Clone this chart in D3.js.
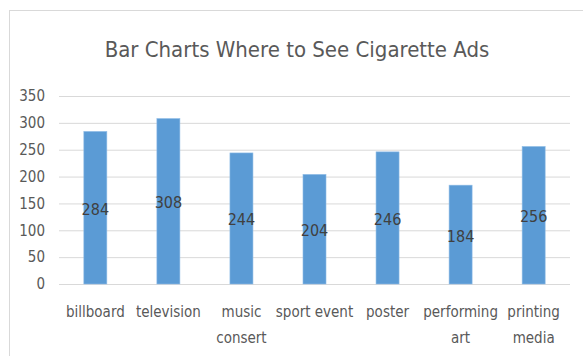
<!DOCTYPE html>
<html lang='en'>
<head>
<meta charset='utf-8'/>
<title>Bar Charts Where to See Cigarette Ads</title>
<script src='https://d3js.org/d3.v7.min.js'></script>
<style>
  body { margin: 0; background: #fff; }
  text { font-family: 'Liberation Sans Narrow', 'DejaVu Sans Condensed', 'Open Sans', sans-serif; }
</style>
</head>
<body>
<script>
'use strict'
// data
const categories = ['billboard', 'television', 'music consert', 'sport event', 'poster', 'performing art', 'printing media']
const categoryLines = [['billboard'], ['television'], ['music', 'consert'], ['sport event'], ['poster'], ['performing', 'art'], ['printing', 'media']]
const values = [284, 308, 244, 204, 246, 184, 256]
const yTicks = [0, 50, 100, 150, 200, 250, 300, 350]
const title = 'Bar Charts Where to See Cigarette Ads'

const W = 583, H = 356
const plot = {left: 59, right: 570, top: 96, bottom: 284}

const svg = d3.select('body').append('svg')
  .attr('width', W)
  .attr('height', H)

// chart area border (cropped at right / bottom)
svg.append('rect')
  .attr('x', 9.5).attr('y', 10.5)
  .attr('width', W + 10).attr('height', H + 10)
  .attr('fill', '#fff')
  .attr('stroke', '#d9d9d9')

svg.append('text')
  .attr('x', 297).attr('y', 57)
  .attr('text-anchor', 'middle')
  .attr('fill', '#595959')
  .style('font-size', '22px')
  .text(title)

const x = d3.scaleBand()
  .domain(categories)
  .range([plot.left, plot.right])
  .paddingInner(0.685)
  .paddingOuter(0.34)

const y = d3.scaleLinear()
  .domain([0, 350])
  .range([plot.bottom, plot.top])

// grid + y labels
const yAxis = svg.append('g')
  .attr('transform', `translate(${plot.left},0)`)
  .call(d3.axisLeft(y).tickValues(yTicks).tickSize(-(plot.right - plot.left)).tickPadding(14))
yAxis.select('.domain').remove()
yAxis.selectAll('.tick line').attr('stroke', '#d9d9d9')
yAxis.selectAll('.tick text')
  .attr('fill', '#595959')
  .style('font-size', '15px')

// bars
svg.append('g').selectAll('rect')
  .data(values)
  .join('rect')
  .attr('x', (d, i) => x(categories[i]))
  .attr('y', d => y(d))
  .attr('width', x.bandwidth())
  .attr('height', d => y(0) - y(d))
  .attr('fill', '#5b9bd5')
  .attr('stroke', '#8fbce6')
  .attr('stroke-width', 0.6)

// value labels, centred in bars
svg.append('g').selectAll('text')
  .data(values)
  .join('text')
  .attr('x', (d, i) => x(categories[i]) + x.bandwidth() / 2)
  .attr('y', d => (y(d) + y(0)) / 2 + 7)
  .attr('text-anchor', 'middle')
  .attr('fill', '#404040')
  .style('font-size', '16px')
  .text(d => d)

// category labels
const xl = svg.append('g').selectAll('text')
  .data(categoryLines)
  .join('text')
  .attr('text-anchor', 'middle')
  .attr('fill', '#595959')
  .style('font-size', '15px')
  .attr('transform', (d, i) => `translate(${x(categories[i]) + x.bandwidth() / 2},317)`)
xl.selectAll('tspan')
  .data(d => d)
  .join('tspan')
  .attr('x', 0)
  .attr('dy', (d, i) => i === 0 ? 0 : 26)
  .text(d => d)
</script>
</body>
</html>
